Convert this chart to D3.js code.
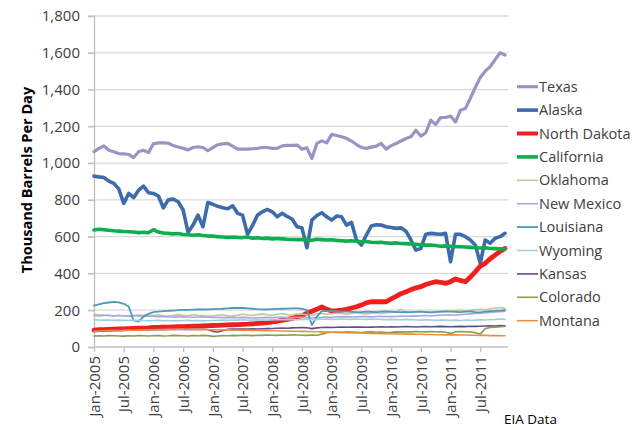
<!DOCTYPE html>
<html>
<head>
<meta charset="utf-8">
<script src="https://cdnjs.cloudflare.com/ajax/libs/d3/7.8.5/d3.min.js"></script>
<style>
  body { margin: 0; background: #fff; }
  text { font-family: "Open Sans", sans-serif; }
</style>
</head>
<body>
<svg id="chart" width="639" height="430"></svg>
<script>
// Categories: one point per month, Jan 2005 .. Dec 2011
const years = [2005, 2006, 2007, 2008, 2009, 2010, 2011];
const monthNames = ["Jan","Feb","Mar","Apr","May","Jun","Jul","Aug","Sep","Oct","Nov","Dec"];
const months = [];
years.forEach(y => monthNames.forEach(m => months.push(m + "-" + y)));

// Tick labels (every six months) and value ticks
const xTickLabels = ["Jan-2005","Jul-2005","Jan-2006","Jul-2006","Jan-2007","Jul-2007","Jan-2008",
  "Jul-2008","Jan-2009","Jul-2009","Jan-2010","Jul-2010","Jan-2011","Jul-2011"];
const yTicks = [0, 200, 400, 600, 800, 1000, 1200, 1400, 1600, 1800];

// Series values, thousand barrels per day
const texas = [
  1062,1080,1094,1070,1062,1052,1050,1047,1030,1062,1070,1057,
  1105,1110,1110,1108,1095,1088,1080,1072,1085,1089,1085,1067,
  1085,1100,1105,1107,1092,1076,1076,1076,1078,1080,1085,1085,
  1080,1080,1094,1096,1096,1098,1076,1083,1025,1107,1121,1110,
  1156,1150,1143,1135,1120,1101,1085,1080,1087,1092,1107,1076,
  1095,1107,1120,1134,1143,1179,1147,1165,1234,1210,1248,1248,
  1256,1223,1288,1297,1352,1411,1466,1500,1524,1563,1600,1587];
const alaska = [
  929,925,922,902,890,860,781,835,812,853,875,839,
  835,821,757,800,804,790,745,623,663,717,654,786,
  776,765,757,752,768,727,717,613,660,717,735,748,
  735,708,727,710,696,654,648,540,690,715,730,708,
  690,712,708,663,678,582,554,609,658,665,663,654,
  650,645,648,630,582,527,536,613,618,615,613,618,
  464,613,613,600,582,554,455,582,564,591,600,618];
const northDakota = [
  92,94,95,96,97,98,99,100,101,102,103,104,
  106,107,108,108,109,110,111,112,113,114,115,116,
  117,118,119,120,121,122,123,124,126,128,130,132,
  136,140,145,150,156,162,170,185,195,205,218,205,
  196,198,201,205,212,219,228,240,246,246,247,246,
  262,275,290,300,312,322,328,340,348,355,352,346,
  355,370,362,355,380,409,440,455,480,500,520,536];
const california = [
  636,640,638,635,632,630,628,627,625,622,624,621,
  638,625,620,618,615,617,612,610,608,610,606,604,
  603,600,598,596,598,596,595,598,592,594,590,592,
  588,590,588,586,585,584,585,583,580,586,584,582,
  583,580,578,576,578,575,572,574,570,568,570,566,
  564,566,563,562,560,558,556,554,555,552,548,550,
  548,546,545,544,542,540,538,540,536,535,534,533];
const oklahoma = [
  170,168,172,171,169,173,170,168,171,174,172,170,
  172,175,170,168,173,176,172,170,175,172,170,168,
  170,173,175,170,168,172,178,174,171,176,180,175,
  173,178,182,176,174,180,178,175,172,180,183,178,
  180,185,182,179,183,186,182,180,184,187,183,186,
  188,190,205,192,188,190,193,191,189,194,192,195,
  196,198,200,197,199,202,205,203,208,212,215,210];
const newMexico = [
  175,174,173,172,170,171,169,168,170,169,168,167,
  166,165,166,164,163,165,164,163,162,163,164,162,
  161,162,160,161,160,159,161,160,158,159,160,161,
  160,161,162,160,159,161,162,160,158,160,161,163,
  162,163,164,165,163,164,166,165,164,166,167,166,
  165,166,168,167,169,168,170,171,169,172,173,174,
  175,173,176,178,180,182,184,186,188,190,192,195];
const louisiana = [
  225,232,238,242,245,243,235,220,145,138,165,180,
  190,192,195,197,198,200,202,202,203,204,204,205,
  206,207,208,210,212,213,212,210,208,206,205,205,
  206,207,208,209,210,210,208,200,120,165,195,196,
  195,193,192,192,191,190,190,192,191,190,192,193,
  192,190,190,189,190,191,192,190,188,190,192,193,
  192,191,190,192,193,190,188,192,195,197,198,200];
const wyoming = [
  148,147,146,147,145,146,145,144,146,145,144,143,
  144,145,143,144,142,143,144,145,143,144,142,143,
  144,145,146,145,147,146,148,147,146,148,147,146,
  147,148,149,150,149,148,150,151,149,150,151,152,
  150,151,152,151,150,152,151,150,152,151,150,149,
  150,149,148,150,149,147,146,148,147,145,146,147,
  145,146,144,147,145,146,148,147,149,150,152,150];
const kansas = [
  90,91,92,91,92,93,92,93,92,93,94,93,
  94,95,94,95,96,95,96,97,96,95,96,95,
  85,82,88,96,97,98,97,98,99,98,99,100,
  101,102,103,102,104,105,106,105,100,104,106,107,
  106,107,108,107,108,109,108,107,108,109,110,109,
  110,109,110,111,110,109,110,111,110,111,112,111,
  110,111,112,111,113,112,113,114,115,114,116,115];
const colorado = [
  60,61,60,62,61,60,59,61,60,62,61,60,
  61,62,60,61,63,62,61,60,62,61,63,62,
  58,60,62,61,63,62,64,63,62,64,63,65,
  64,63,65,64,66,65,64,63,65,64,70,78,
  80,81,80,82,81,80,79,81,82,80,81,79,
  80,82,81,83,82,84,83,82,84,83,82,80,
  74,82,84,83,82,78,70,100,106,108,110,112];
const montana = [
  86,87,88,89,90,90,91,92,91,92,93,93,
  94,95,95,96,96,97,97,96,97,96,95,95,
  94,94,93,93,92,92,91,91,90,90,89,89,
  88,88,87,87,86,86,85,84,84,83,82,81,
  80,79,78,78,77,76,76,75,74,74,73,72,
  72,71,71,70,70,69,69,68,68,67,67,66,
  66,66,65,65,64,64,63,63,62,62,61,61];

const seriesNames = ["Texas","Alaska","North Dakota","California","Oklahoma","New Mexico",
  "Louisiana","Wyoming","Kansas","Colorado","Montana"];
const seriesValues = [texas, alaska, northDakota, california, oklahoma, newMexico,
  louisiana, wyoming, kansas, colorado, montana];

// Line styles, same order as the series
const colors = ["#9C93C2","#3D6CAA","#F01E1E","#0DAE4E","#C9C49C","#A9A8DA",
  "#4A9BBB","#9ED0E0","#5F4E8E","#8C9C50","#F08C3E"];
const widths = [3.2, 3.6, 4.8, 3.6, 1.6, 1.6, 1.8, 1.6, 1.6, 1.6, 1.6];

const series = seriesNames.map((name, i) => ({
  name: name, values: seriesValues[i], color: colors[i], width: widths[i]
}));

// Dimensions
const margin = {top: 16, left: 94, bottom: 347, right: 505};
const axisEnd = 508;

const svg = d3.select("#chart");
svg.append("rect").attr("width", 639).attr("height", 430).attr("fill", "#fff");

const x = d3.scalePoint().domain(months).range([margin.left, margin.right]);
const y = d3.scaleLinear().domain([0, 1800]).range([margin.bottom, margin.top]);

// Horizontal gridlines (with short ticks left of the axis)
svg.append("g").selectAll("line")
  .data(yTicks.slice(1))
  .enter().append("line")
  .attr("x1", margin.left - 6).attr("x2", axisEnd)
  .attr("y1", d => y(d)).attr("y2", d => y(d))
  .attr("stroke", "#D9D9D9").attr("stroke-width", 1.3);

// Y axis
const yAxis = svg.append("g")
  .attr("transform", `translate(${margin.left},0)`)
  .call(d3.axisLeft(y).tickValues(yTicks).tickFormat(d3.format(",")).tickSize(6).tickPadding(8));
yAxis.select(".domain").attr("stroke", "#BFBFBF").attr("stroke-width", 1.3);
yAxis.selectAll(".tick line").attr("stroke", "#BFBFBF").attr("stroke-width", 1.3);
yAxis.selectAll(".tick text")
  .attr("font-family", "Open Sans, sans-serif")
  .attr("font-size", "15px")
  .attr("fill", "#404040");

// X axis
const xAxis = svg.append("g")
  .attr("transform", `translate(0,${margin.bottom})`)
  .call(d3.axisBottom(x).tickValues(xTickLabels).tickSize(5).tickSizeOuter(0));
xAxis.select(".domain").attr("d", `M${margin.left},0H${axisEnd}`)
  .attr("stroke", "#BFBFBF").attr("stroke-width", 1.3);
xAxis.selectAll(".tick line").attr("stroke", "#BFBFBF").attr("stroke-width", 1.3);
xAxis.selectAll(".tick text")
  .attr("font-family", "Open Sans, sans-serif")
  .attr("font-size", "15px")
  .attr("fill", "#404040")
  .attr("text-anchor", "end")
  .attr("transform", "rotate(-90)")
  .attr("x", -9).attr("y", 0).attr("dy", "0.35em");

// Y axis title
svg.append("text")
  .attr("transform", "translate(32,180) rotate(-90)")
  .attr("text-anchor", "middle")
  .attr("font-size", "14.5px")
  .attr("font-weight", "bold")
  .attr("fill", "#000")
  .text("Thousand Barrels Per Day");

// Lines
const line = d3.line()
  .x((d, i) => x(months[i]))
  .y(d => y(d));

svg.append("g").selectAll("path")
  .data(series)
  .enter().append("path")
  .attr("d", d => line(d.values))
  .attr("fill", "none")
  .attr("stroke", d => d.color)
  .attr("stroke-width", d => d.width)
  .attr("stroke-linejoin", "round")
  .attr("stroke-linecap", "round");

// Legend
const legend = svg.append("g").selectAll("g")
  .data(series)
  .enter().append("g")
  .attr("transform", (d, i) => `translate(517,${86.7 + i * 23.4})`);

legend.append("line")
  .attr("x1", 0).attr("x2", 21)
  .attr("stroke", d => d.color)
  .attr("stroke-width", d => Math.min(d.width, 4));

legend.append("text")
  .attr("x", 22).attr("dy", "0.35em")
  .attr("font-size", "14.5px")
  .attr("fill", "#404040")
  .text(d => d.name);

// Source note
svg.append("text")
  .attr("x", 504).attr("y", 424)
  .attr("font-family", "Liberation Sans, Arial, sans-serif")
  .attr("font-size", "13.5px")
  .attr("fill", "#000")
  .text("EIA Data");
</script>
</body>
</html>
